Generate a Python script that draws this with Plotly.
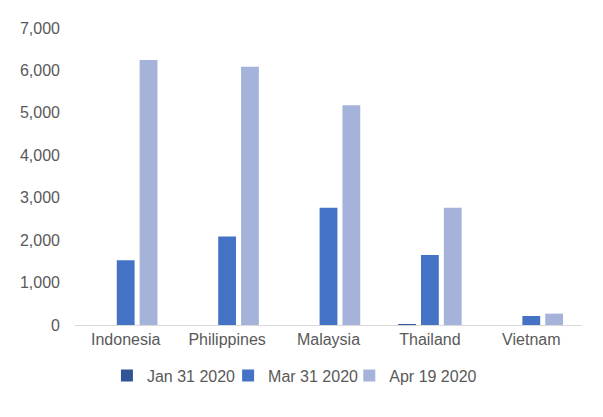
import plotly.graph_objects as go

countries = ["Indonesia", "Philippines", "Malaysia", "Thailand", "Vietnam"]
series_names = ["Jan 31 2020", "Mar 31 2020", "Apr 19 2020"]
jan_31 = [0, 0, 0, 19, 0]
mar_31 = [1528, 2084, 2766, 1651, 212]
apr_19 = [6248, 6087, 5182, 2765, 268]
colors = ["#2F5597", "#4472C4", "#A5B3DA"]

legend_ids = ["legend", "legend2", "legend3"]
legend_x = [0.063, 0.302, 0.541]

fig = go.Figure()
for name, vals, col, lg in zip(series_names, [jan_31, mar_31, apr_19], colors, legend_ids):
    fig.add_trace(go.Bar(x=countries, y=vals, name=name, marker_color=col,
                         marker_line_width=0, legend=lg))

legend_style = dict(orientation="h", xanchor="left", y=-0.17, yanchor="middle",
                    font=dict(size=16, color="#595959"), itemwidth=30,
                    bgcolor="rgba(0,0,0,0)")

# page has an 8px body margin, so the figure is shrunk to fit the window
fig.update_layout(
    width=595, height=409,
    barmode="group", bargap=0.324, bargroupgap=0.22,
    paper_bgcolor="white", plot_bgcolor="white",
    margin=dict(l=64, r=21, t=17, b=92),
    font=dict(family="Liberation Sans, Arial", size=16, color="#595959"),
    showlegend=True,
)
for lg, lx in zip(legend_ids, legend_x):
    fig.update_layout({lg: dict(legend_style, x=lx)})

fig.update_xaxes(showline=True, linecolor="#D9D9D9", linewidth=1, ticks="",
                 showgrid=False)
fig.update_yaxes(range=[0, 7000], dtick=1000, tickformat=",", showgrid=False,
                 zeroline=False, showline=False, ticks="", ticklabelstandoff=14)

fig.write_html("out.html")
